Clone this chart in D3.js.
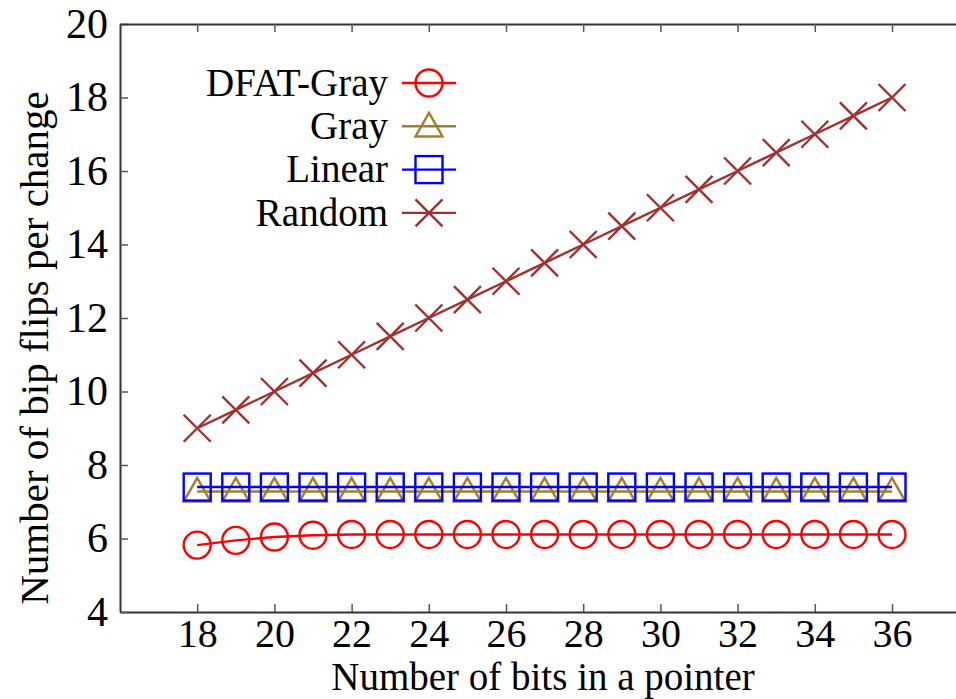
<!DOCTYPE html>
<html>
<head>
<meta charset="utf-8">
<script src="https://cdn.jsdelivr.net/npm/d3@7"></script>
<style>
  body { margin: 0; background: #fff; }
  text { font-family: "Liberation Serif", "Times New Roman", serif; fill: #000; }
</style>
</head>
<body>
<script>
// chart data
var bits = [18, 19, 20, 21, 22, 23, 24, 25, 26, 27, 28, 29, 30, 31, 32, 33, 34, 35, 36];
var dfatGray = [5.82, 5.95, 6.04, 6.09, 6.11, 6.11, 6.11, 6.11, 6.11, 6.11, 6.11, 6.11, 6.11, 6.11, 6.11, 6.11, 6.11, 6.11, 6.11];
var gray = [7.28, 7.28, 7.28, 7.28, 7.28, 7.28, 7.28, 7.28, 7.28, 7.28, 7.28, 7.28, 7.28, 7.28, 7.28, 7.28, 7.28, 7.28, 7.28];
var linear = [7.4, 7.4, 7.4, 7.4, 7.4, 7.4, 7.4, 7.4, 7.4, 7.4, 7.4, 7.4, 7.4, 7.4, 7.4, 7.4, 7.4, 7.4, 7.4];
var random = [9, 9.5, 10, 10.5, 11, 11.5, 12, 12.5, 13, 13.5, 14, 14.5, 15, 15.5, 16, 16.5, 17, 17.5, 18];
var xTicks = [18, 20, 22, 24, 26, 28, 30, 32, 34, 36];
var yTicks = [4, 6, 8, 10, 12, 14, 16, 18, 20];

var series = [
    {name: "DFAT-Gray", values: dfatGray, color: "#ff0000", shape: "circle"},
    {name: "Gray", values: gray, color: "#a08028", shape: "triangle"},
    {name: "Linear", values: linear, color: "#0000ff", shape: "square"},
    {name: "Random", values: random, color: "#a32f2f", shape: "cross"}
];

var W = 956, H = 699;
var margin = {top: 24, left: 120, bottom: 87};

var svg = d3.select("body").append("svg")
    .attr("width", W)
    .attr("height", H);

// plot frame runs past the right edge of the picture (it was cropped)
var xScale = d3.scaleLinear().domain([16, 38]).range([margin.left, margin.left + 22 * 38.6]);
var yScale = d3.scaleLinear().domain([4, 20]).range([H - margin.bottom, margin.top]);

// axes: bottom and left with labels, top with ticks only, ticks pointing in
var xAxis = d3.axisBottom(xScale).tickValues(xTicks).tickSizeInner(-8).tickSizeOuter(0).tickPadding(7);
var yAxis = d3.axisLeft(yScale).tickValues(yTicks).tickSizeInner(-8).tickSizeOuter(0).tickPadding(12);
var topAxis = d3.axisTop(xScale).tickValues(xTicks).tickSizeInner(-8).tickSizeOuter(0).tickFormat("");

function styleAxis(size) {
    return function(g) {
        g.select(".domain").attr("stroke", "#333").attr("stroke-width", 2);
        g.selectAll(".tick line").attr("stroke", "#555").attr("stroke-width", 1.5);
        g.selectAll("text").attr("font-family", "Liberation Serif").attr("font-size", size).attr("fill", "#000");
    };
}

svg.append("g")
    .attr("transform", "translate(0," + yScale(4) + ")")
    .call(xAxis)
    .call(styleAxis(40));

svg.append("g")
    .attr("transform", "translate(" + xScale(16) + ",0)")
    .call(yAxis)
    .call(styleAxis(42));

svg.append("g")
    .attr("transform", "translate(0," + yScale(20) + ")")
    .call(topAxis)
    .call(styleAxis(40));

// axis titles
svg.append("text")
    .attr("x", 543)
    .attr("y", 690)
    .attr("text-anchor", "middle")
    .attr("font-size", 39)
    .text("Number of bits in a pointer");

svg.append("text")
    .attr("transform", "translate(48,348) rotate(-90)")
    .attr("text-anchor", "middle")
    .attr("font-size", 41)
    .text("Number of bip flips per change");

// marker drawing
var r = 13.5;
function drawMarker(g, shape, color) {
    if (shape === "circle") {
        g.append("circle").attr("r", r).attr("fill", "none");
    } else if (shape === "triangle") {
        g.append("path").attr("d", "M0," + (-r) + "L" + r + "," + (r * 0.75) + "L" + (-r) + "," + (r * 0.75) + "Z").attr("fill", "none");
    } else if (shape === "square") {
        g.append("rect").attr("x", -r).attr("y", -r).attr("width", 2 * r).attr("height", 2 * r).attr("fill", "none");
    } else {
        g.append("path").attr("d", "M" + (-r) + "," + (-r) + "L" + r + "," + r + "M" + (-r) + "," + r + "L" + r + "," + (-r));
    }
    g.selectAll("*").attr("stroke", color).attr("stroke-width", 2.4);
}

var line = d3.line()
    .x(function(d, i) { return xScale(bits[i]); })
    .y(function(d) { return yScale(d); });

series.forEach(function(s) {
    svg.append("path")
        .attr("d", line(s.values))
        .attr("fill", "none")
        .attr("stroke", s.color)
        .attr("stroke-width", 2.4);

    svg.selectAll(null)
        .data(s.values)
        .enter()
        .append("g")
        .attr("transform", function(d, i) {
            return "translate(" + xScale(bits[i]) + "," + yScale(d) + ")";
        })
        .each(function() { drawMarker(d3.select(this), s.shape, s.color); });
});

// legend, top left inside the frame
var legend = svg.append("g").attr("transform", "translate(388,83)");
series.forEach(function(s, i) {
    var row = legend.append("g").attr("transform", "translate(0," + (i * 43.3) + ")");
    row.append("text")
        .attr("text-anchor", "end")
        .attr("dy", "0.33em")
        .attr("font-size", 39)
        .attr("textLength", null)
        .text(s.name);
    row.append("line")
        .attr("x1", 14).attr("x2", 68)
        .attr("stroke", s.color)
        .attr("stroke-width", 2.4);
    drawMarker(row.append("g").attr("transform", "translate(41,0)"), s.shape, s.color);
});
</script>
</body>
</html>
